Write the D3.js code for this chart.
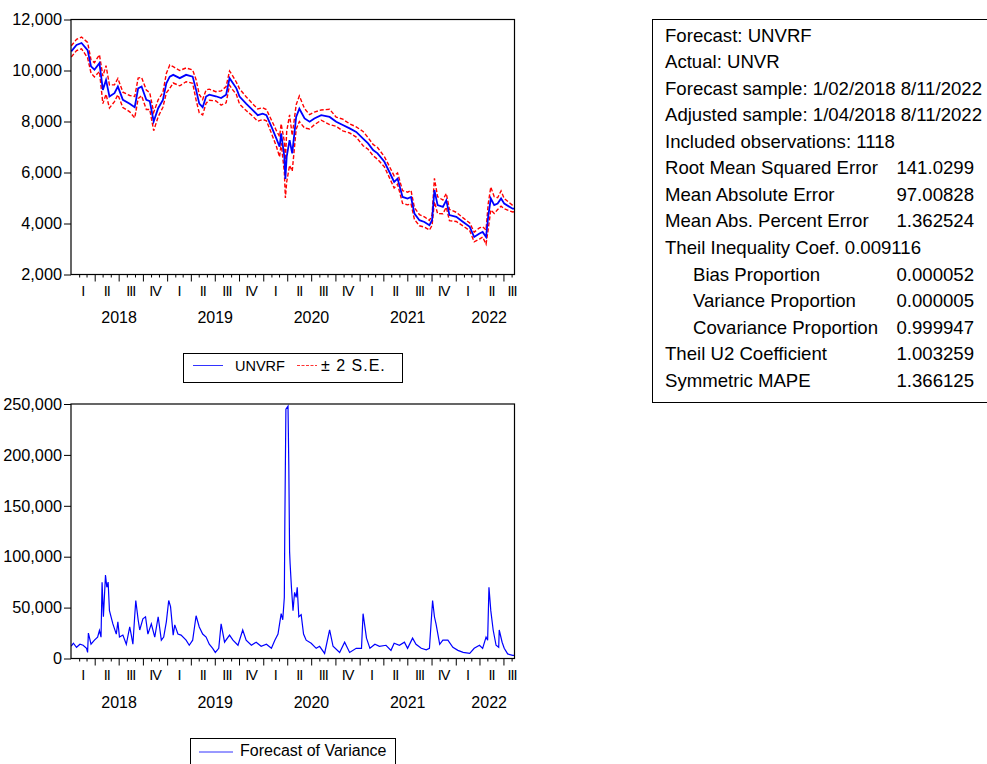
<!DOCTYPE html>
<html><head><meta charset="utf-8">
<script src="https://cdn.jsdelivr.net/npm/d3@7/dist/d3.min.js"></script>
<style>
body{margin:0;background:#fff}
svg{display:block}
text{font-family:"Liberation Sans",Arial,sans-serif;fill:#000}
</style>
</head><body>
<svg id="chart" width="987" height="764"></svg>
<script>
// ---------------- DATA ----------------
const forecastDates = ["2018-01-02","2018-01-22","2018-02-10","2018-03-05","2018-03-18","2018-03-31","2018-04-19","2018-05-02","2018-05-14","2018-05-27","2018-06-15","2018-06-28","2018-07-17","2018-08-12","2018-08-31","2018-09-13","2018-09-26","2018-10-14","2018-10-27","2018-11-11","2018-11-28","2018-12-16","2018-12-29","2019-01-11","2019-01-24","2019-02-18","2019-03-14","2019-04-08","2019-04-21","2019-05-03","2019-05-16","2019-05-29","2019-06-10","2019-07-05","2019-07-25","2019-08-13","2019-08-26","2019-09-08","2019-09-21","2019-10-03","2019-10-28","2019-11-23","2019-12-11","2019-12-30","2020-01-13","2020-02-01","2020-02-20","2020-03-03","2020-03-09","2020-03-21","2020-03-25","2020-03-30","2020-04-10","2020-04-20","2020-05-05","2020-05-17","2020-06-06","2020-06-25","2020-07-13","2020-08-08","2020-09-09","2020-10-04","2020-10-29","2020-11-24","2020-12-19","2021-01-14","2021-02-02","2021-02-21","2021-03-10","2021-04-05","2021-04-24","2021-05-12","2021-05-25","2021-06-13","2021-07-02","2021-07-15","2021-07-28","2021-08-16","2021-09-04","2021-09-23","2021-10-03","2021-10-12","2021-10-24","2021-11-13","2021-11-26","2021-12-08","2022-01-03","2022-01-29","2022-02-23","2022-03-12","2022-04-01","2022-04-13","2022-04-26","2022-05-04","2022-05-14","2022-05-27","2022-06-09","2022-06-22","2022-07-04","2022-08-05","2022-08-11"];
const forecastValues = [10750,11000,11080,10800,10160,10030,10290,9240,9630,8980,9110,9370,8850,8700,8560,9300,9370,8850,8800,8000,8520,8850,9500,9760,9830,9700,9830,9760,9240,8700,8560,8980,9050,8990,8920,9050,9700,9500,9300,8980,8700,8440,8250,8310,8250,7800,7330,7010,7530,6620,5750,6620,7270,6750,8180,8500,8120,7990,8120,8250,8180,7990,7860,7730,7590,7330,7140,6880,6750,6420,6020,5630,5760,5040,4980,5040,4390,4130,4060,3930,4130,5310,4720,4650,4910,4330,4260,4060,3870,3470,3610,3670,3470,4260,4980,4720,4780,4980,4780,4580,4580];
// two standard errors (half-width of the ± 2 S.E. band) at each forecast date
const twoSE = [220,220,230,300,260,280,330,540,560,450,330,320,300,320,420,400,360,380,330,360,330,290,380,460,320,300,270,260,400,360,300,260,220,180,280,320,280,270,240,300,270,240,240,230,220,260,310,400,380,600,750,990,990,700,480,500,380,280,250,200,300,180,230,180,200,280,230,220,230,200,220,240,220,250,250,260,230,220,200,190,200,460,330,270,270,220,180,160,150,190,220,200,280,500,450,330,230,300,200,130,120];

const varianceDates = ["2018-01-02","2018-01-10","2018-01-22","2018-02-04","2018-02-16","2018-03-01","2018-03-05","2018-03-08","2018-03-18","2018-03-31","2018-04-12","2018-04-19","2018-04-25","2018-04-29","2018-05-04","2018-05-12","2018-05-17","2018-05-22","2018-05-27","2018-06-09","2018-06-22","2018-06-28","2018-07-04","2018-07-17","2018-07-30","2018-08-12","2018-08-18","2018-08-24","2018-08-31","2018-09-04","2018-09-13","2018-09-19","2018-10-01","2018-10-11","2018-10-20","2018-11-02","2018-11-15","2018-11-28","2018-12-10","2018-12-19","2018-12-29","2019-01-07","2019-01-14","2019-01-24","2019-01-30","2019-02-11","2019-02-23","2019-03-14","2019-03-26","2019-04-08","2019-04-21","2019-05-03","2019-05-16","2019-05-29","2019-06-10","2019-06-23","2019-07-03","2019-07-16","2019-07-25","2019-08-07","2019-08-26","2019-09-08","2019-09-27","2019-10-15","2019-10-28","2019-11-17","2019-12-05","2019-12-24","2020-01-13","2020-02-01","2020-02-14","2020-02-26","2020-03-09","2020-03-15","2020-03-21","2020-03-23","2020-03-27","2020-04-04","2020-04-07","2020-04-10","2020-04-12","2020-04-17","2020-04-23","2020-04-29","2020-05-05","2020-05-09","2020-05-15","2020-05-24","2020-06-02","2020-06-12","2020-07-01","2020-07-20","2020-08-02","2020-08-21","2020-09-09","2020-09-22","2020-10-17","2020-11-05","2020-11-24","2020-12-19","2021-01-08","2021-01-14","2021-01-27","2021-02-09","2021-02-28","2021-03-17","2021-04-11","2021-04-30","2021-05-12","2021-06-01","2021-06-20","2021-07-02","2021-07-21","2021-08-03","2021-08-23","2021-09-11","2021-09-23","2021-10-05","2021-10-12","2021-10-18","2021-11-01","2021-11-13","2021-12-02","2021-12-21","2022-01-09","2022-01-29","2022-02-23","2022-03-12","2022-04-01","2022-04-13","2022-04-26","2022-05-02","2022-05-07","2022-05-14","2022-05-23","2022-06-03","2022-06-13","2022-06-15","2022-06-26","2022-07-04","2022-07-17","2022-08-05","2022-08-11"];
const varianceValues = [12000,15000,11000,14000,13000,10000,6000,25000,14000,18000,21000,27500,21000,75000,41000,82000,70000,75000,47000,34000,24000,36000,21000,23000,14000,31000,23000,14000,42000,57000,38000,28000,39000,41000,24000,34000,21000,41000,18000,21000,36000,57000,51000,23000,33000,24000,23000,18000,13000,18000,42000,31000,24000,21000,14000,10000,6000,10000,34000,16000,23000,18000,13000,28000,18000,13000,16000,12000,14000,10000,18000,24000,44000,38000,60000,134000,245000,248000,190000,105000,93000,70000,47000,65000,60000,70000,41000,43000,24000,18000,15000,10000,12000,5000,28000,12000,6000,16000,6000,10000,10000,44000,20000,10000,14000,12000,13000,8000,15000,13000,16000,10000,20000,14000,10000,8500,10000,57000,41000,34000,14000,18000,18000,11000,8000,6000,5000,10000,13000,10000,21000,18000,70000,47000,28000,13000,11000,28000,16000,10000,4500,3000,3000];

const topYTicks = [2000,4000,6000,8000,10000,12000];
const bottomYTicks = [0,50000,100000,150000,200000,250000];
const quarterLabels = ["I","II","III","IV"];
const topLegendLabels = ["UNVRF","\u00B1 2 S.E."];
const bottomLegendLabels = ["Forecast of Variance"];

const statLabels = ["Forecast: UNVRF","Actual: UNVR","Forecast sample: 1/02/2018 8/11/2022","Adjusted sample: 1/04/2018 8/11/2022","Included observations: 1118","Root Mean Squared Error","Mean Absolute Error","Mean Abs. Percent Error","Theil Inequality Coef. 0.009116","Bias Proportion","Variance Proportion","Covariance Proportion","Theil U2 Coefficient","Symmetric MAPE"];
const statValues = ["","","","","","141.0299","97.00828","1.362524","","0.000052","0.000005","0.999947","1.003259","1.366125"];
const statIndent = [0,0,0,0,0,0,0,0,0,1,1,1,0,0];

// ---------------- DRAW ----------------
const parse = d3.timeParse("%Y-%m-%d");
const fc = forecastDates.map((d,i)=>({date:parse(d), v:forecastValues[i], se:twoSE[i]}));
const vr = varianceDates.map((d,i)=>({date:parse(d), v:varianceValues[i]}));

const svg = d3.select("#chart");
const xStart = new Date(2018,0,1), xEnd = new Date(2022,7,12);
const x = d3.scaleTime().domain([xStart,xEnd]).range([71,514.5]);

function panel(yDomain, yRange, yTicks, qBase, yrBase, clipId){
  const y = d3.scaleLinear().domain(yDomain).range(yRange);
  const g = svg.append("g");
  g.append("clipPath").attr("id",clipId).append("rect")
    .attr("x",x.range()[0]).attr("y",yRange[1]).attr("width",x.range()[1]-x.range()[0]).attr("height",yRange[0]-yRange[1]);
  const ya = g.append("g").attr("transform",`translate(${x.range()[0]},0)`)
    .call(d3.axisLeft(y).tickValues(yTicks).tickSize(7).tickPadding(2).tickFormat(d3.format(",")));
  ya.select(".domain").remove();
  ya.selectAll("line").attr("stroke","#000");
  ya.selectAll("text").attr("font-size",16.3).attr("font-family","Liberation Sans, Arial, sans-serif").attr("fill","#000");
  const months = d3.timeMonth.range(d3.timeMonth.offset(xStart,1), xEnd);
  const xa = g.append("g").attr("transform",`translate(0,${yRange[0]})`)
    .call(d3.axisBottom(x).tickValues(months).tickSize(3).tickFormat(""));
  xa.select(".domain").remove();
  xa.selectAll(".tick line").attr("stroke","#000").attr("y2",d=>d.getMonth()%3===0?7:3);
  const quarters = d3.timeMonth.every(3).range(xStart,xEnd);
  g.selectAll(".ql").data(quarters).join("text")
    .attr("x",d=>{const n=d3.timeMonth.offset(d,3); return (x(d)+x(n<xEnd?n:xEnd))/2 + (n<xEnd?0:3);})
    .attr("y",qBase).attr("text-anchor","middle").attr("font-size",14.5).attr("letter-spacing","-1px")
    .text(d=>quarterLabels[Math.floor(d.getMonth()/3)]);
  const years = d3.timeYear.range(xStart,xEnd);
  g.selectAll(".yl").data(years).join("text")
    .attr("x",d=>{const n=d3.timeYear.offset(d,1); return (x(d)+x(n<xEnd?n:xEnd))/2 + (n<xEnd?0:4);})
    .attr("y",yrBase).attr("text-anchor","middle").attr("font-size",16)
    .text(d=>d.getFullYear());
  return {g,y,clip:`url(#${clipId})`};
}

// top panel
const topP = panel([2000,12000],[274.5,19.5],topYTicks,296,323,"clipTop");
topP.g.append("path").datum(fc).attr("clip-path",topP.clip)
  .attr("d",d3.line().x(d=>x(d.date)).y(d=>topP.y(d.v+d.se)))
  .attr("fill","none").attr("stroke","#ff0000").attr("stroke-width",1.4).attr("stroke-dasharray","4,2");
topP.g.append("path").datum(fc).attr("clip-path",topP.clip)
  .attr("d",d3.line().x(d=>x(d.date)).y(d=>topP.y(d.v-d.se)))
  .attr("fill","none").attr("stroke","#ff0000").attr("stroke-width",1.4).attr("stroke-dasharray","4,2");
topP.g.append("path").datum(fc).attr("clip-path",topP.clip)
  .attr("d",d3.line().x(d=>x(d.date)).y(d=>topP.y(d.v)))
  .attr("fill","none").attr("stroke","#0000ff").attr("stroke-width",1.8);
topP.g.append("rect").attr("x",71).attr("y",19.5).attr("width",443.5).attr("height",255)
  .attr("fill","none").attr("stroke","#000").attr("stroke-width",1.2);

// bottom panel
const botP = panel([0,250000],[658.5,404],bottomYTicks,680,707.5,"clipBot");
botP.g.append("path").datum(vr).attr("clip-path",botP.clip)
  .attr("d",d3.line().x(d=>x(d.date)).y(d=>botP.y(d.v)))
  .attr("fill","none").attr("stroke","#0000ff").attr("stroke-width",1.2);
botP.g.append("rect").attr("x",71).attr("y",404).attr("width",443.5).attr("height",254.5)
  .attr("fill","none").attr("stroke","#000").attr("stroke-width",1.2);

// legends
const lg1 = svg.append("g");
lg1.append("rect").attr("x",183.5).attr("y",353.5).attr("width",219).attr("height",29).attr("fill","#fff").attr("stroke","#000");
lg1.append("line").attr("x1",193).attr("x2",223).attr("y1",365.5).attr("y2",365.5).attr("stroke","#3333ff").attr("stroke-width",1);
lg1.append("text").attr("x",235).attr("y",371).attr("font-size",14.5).text(topLegendLabels[0]);
lg1.append("line").attr("x1",297).attr("x2",317).attr("y1",365.5).attr("y2",365.5).attr("stroke","#ff3333").attr("stroke-width",1).attr("stroke-dasharray","3,1.5");
lg1.append("text").attr("x",321).attr("y",371).attr("font-size",16).attr("letter-spacing","1px").text(topLegendLabels[1]);

const lg2 = svg.append("g");
lg2.append("rect").attr("x",190.5).attr("y",738.5).attr("width",205).attr("height",32).attr("fill","#fff").attr("stroke","#000");
lg2.append("line").attr("x1",199).attr("x2",233).attr("y1",752).attr("y2",752).attr("stroke","#3333ff").attr("stroke-width",1);
lg2.append("text").attr("x",240).attr("y",755.5).attr("font-size",16).text(bottomLegendLabels[0]);

// statistics box
const sb = svg.append("g");
sb.append("rect").attr("x",652.5).attr("y",19.5).attr("width",345).attr("height",383)
  .attr("fill","#fff").attr("stroke","#000").attr("stroke-width",1);
sb.selectAll(".sl").data(statLabels).join("text")
  .attr("x",(d,i)=>statIndent[i]?693:665).attr("y",(d,i)=>41.7+i*26.54)
  .attr("font-size",18.6).text(d=>d);
sb.selectAll(".sv").data(statValues).join("text")
  .attr("x",974).attr("y",(d,i)=>41.7+i*26.54).attr("text-anchor","end")
  .attr("font-size",18.6).text(d=>d);
</script>
</body></html>
